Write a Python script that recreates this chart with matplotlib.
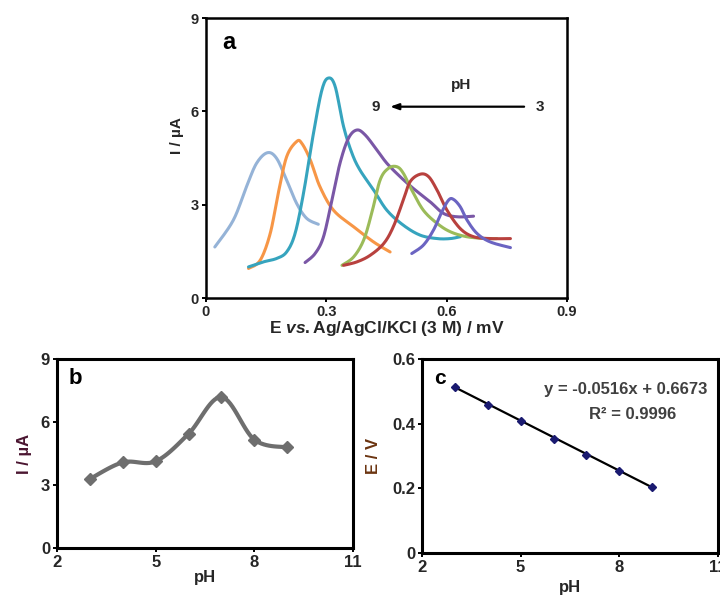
import numpy as np
import matplotlib
matplotlib.use("Agg")
import matplotlib.pyplot as plt

plt.rcParams['font.family'] = ['Liberation Sans', 'DejaVu Sans']
plt.rcParams['font.weight'] = 'bold'
plt.rcParams['mathtext.fontset'] = 'custom'
plt.rcParams['mathtext.it'] = 'Liberation Sans:italic:bold'
plt.rcParams['mathtext.rm'] = 'Liberation Sans:bold'

TXT = '#262626'

# (a) DPV curves at each pH, potential (V) and current (uA)
E_ph9 = [0.022, 0.068, 0.101, 0.126, 0.153, 0.176, 0.201, 0.226, 0.251, 0.280]
I_ph9 = [1.64, 2.50, 3.58, 4.33, 4.67, 4.49, 3.79, 3.04, 2.56, 2.37]
E_ph8 = [0.106, 0.135, 0.160, 0.180, 0.201, 0.226, 0.239, 0.260, 0.284, 0.318, 0.368, 0.418, 0.459]
I_ph8 = [0.95, 1.21, 2.07, 3.36, 4.54, 5.03, 4.97, 4.44, 3.58, 2.82, 2.29, 1.80, 1.48]
E_ph7 = [0.106, 0.143, 0.176, 0.201, 0.222, 0.243, 0.268, 0.289, 0.305, 0.322, 0.343, 0.364,
         0.384, 0.418, 0.451, 0.492, 0.534, 0.576, 0.609, 0.634]
I_ph7 = [1.00, 1.16, 1.27, 1.48, 2.07, 3.36, 5.30, 6.69, 7.07, 6.80, 5.51, 4.65,
         4.11, 3.47, 2.82, 2.34, 2.02, 1.91, 1.91, 1.97]
E_ph6 = [0.247, 0.272, 0.293, 0.314, 0.334, 0.355, 0.376, 0.397, 0.426, 0.451, 0.484, 0.517,
         0.559, 0.592, 0.626, 0.667]
I_ph6 = [1.14, 1.43, 1.97, 3.15, 4.33, 5.13, 5.40, 5.24, 4.76, 4.33, 3.90, 3.52,
         3.09, 2.72, 2.61, 2.63]
E_ph5 = [0.339, 0.368, 0.393, 0.413, 0.434, 0.455, 0.476, 0.492, 0.513, 0.542, 0.576, 0.609,
         0.650, 0.700, 0.725]
I_ph5 = [1.05, 1.32, 1.86, 2.72, 3.79, 4.17, 4.22, 4.01, 3.47, 2.82, 2.40, 2.13,
         1.97, 1.91, 1.91]
E_ph4 = [0.343, 0.376, 0.409, 0.443, 0.467, 0.492, 0.509, 0.534, 0.555, 0.576, 0.601, 0.634,
         0.667, 0.709, 0.759]
I_ph4 = [1.05, 1.16, 1.37, 1.75, 2.29, 3.15, 3.74, 3.98, 3.90, 3.47, 2.82, 2.23,
         1.97, 1.91, 1.91]
E_ph3 = [0.513, 0.542, 0.567, 0.588, 0.605, 0.617, 0.634, 0.651, 0.676, 0.709, 0.759]
I_ph3 = [1.43, 1.70, 2.18, 2.77, 3.15, 3.17, 2.93, 2.50, 2.07, 1.80, 1.62]

curves = [
    (E_ph9, I_ph9, '#95b3d7'),
    (E_ph8, I_ph8, '#f79646'),
    (E_ph7, I_ph7, '#36a4be'),
    (E_ph6, I_ph6, '#7a57a6'),
    (E_ph5, I_ph5, '#9bbb59'),
    (E_ph4, I_ph4, '#b8413e'),
    (E_ph3, I_ph3, '#6b64c2'),
]

# (b) peak current vs pH
pH = [3, 4, 5, 6, 7, 8, 9]
Ip = [3.29, 4.08, 4.13, 5.44, 7.19, 5.16, 4.79]

# (c) peak potential vs pH and linear fit
Ep = [0.512, 0.458, 0.409, 0.351, 0.303, 0.255, 0.204]
slope, intercept = -0.0516, 0.6673


def smooth(x, y, n=16):
    # Catmull-Rom path through the points, like a smoothed spreadsheet line
    p = np.column_stack([x, y]).astype(float)
    p = np.vstack([p[0], p, p[-1]])
    out = []
    t = np.linspace(0, 1, n)[:, None]
    for i in range(1, len(p) - 2):
        p0, p1, p2, p3 = p[i - 1], p[i], p[i + 1], p[i + 2]
        seg = 0.5 * ((2 * p1) + (-p0 + p2) * t + (2 * p0 - 5 * p1 + 4 * p2 - p3) * t ** 2
                     + (-p0 + 3 * p1 - 3 * p2 + p3) * t ** 3)
        out.append(seg if i == 1 else seg[1:])
    out = np.vstack(out)
    return out[:, 0], out[:, 1]


def style(ax, lw=1.8, size=10):
    for s in ax.spines.values():
        s.set_linewidth(lw)
        s.set_color('black')
    ax.tick_params(direction='out', length=3, width=1.4, labelsize=size,
                   colors='black', labelcolor=TXT, pad=2)
    for lab in ax.get_xticklabels() + ax.get_yticklabels():
        lab.set_fontweight('bold')


fig = plt.figure(figsize=(7.2, 5.99), dpi=100)

# panel a
ax = fig.add_axes([0.2861, 0.5025, 0.5014, 0.4674])
for e, i, c in curves:
    xs, ys = smooth(e, i)
    ax.plot(xs, ys, color=c, lw=2.2, solid_capstyle='round')
ax.set_xlim(0, 0.9)
ax.set_ylim(0, 9)
ax.set_xticks([0, 0.3, 0.6, 0.9])
ax.set_xticklabels(['0', '0.3', '0.6', '0.9'])
ax.set_yticks([0, 3, 6, 9])
style(ax, lw=1.8, size=10.5)
ax.set_xlabel('E $\\it{vs.}$Ag/AgCl/KCl (3 M) / mV', fontsize=12.5, fontweight='bold',
              color=TXT, labelpad=0)
ax.set_ylabel('I / µA', fontsize=11, fontweight='bold', color=TXT)
ax.yaxis.set_label_coords(-0.06, 0.58)
ax.text(0.045, 0.955, 'a', transform=ax.transAxes, fontsize=17, fontweight='bold',
        va='top', ha='left', color='black')
ax.annotate('', xy=(0.452, 6.15), xytext=(0.80, 6.15),
            arrowprops=dict(arrowstyle='-|>,head_length=0.5,head_width=0.18',
                            color='black', lw=1.6))
ax.text(0.435, 6.15, '9', fontsize=11, fontweight='bold', ha='right', va='center', color=TXT)
ax.text(0.822, 6.15, '3', fontsize=11, fontweight='bold', ha='left', va='center', color=TXT)
ax.text(0.635, 6.62, 'pH', fontsize=11, fontweight='bold', ha='center', va='bottom', color=TXT)

# panel b
bx = fig.add_axes([0.0792, 0.0851, 0.4111, 0.3155])
xs, ys = smooth(pH, Ip)
bx.plot(xs, ys, color='#6e6e6e', lw=3)
bx.plot(pH, Ip, ls='none', marker='D', ms=6.5, color='#6e6e6e')
bx.set_xlim(2, 11)
bx.set_ylim(0, 9)
bx.set_xticks([2, 5, 8, 11])
bx.set_yticks([0, 3, 6, 9])
style(bx, lw=2.2, size=12)
bx.set_xlabel('pH', fontsize=12, fontweight='bold', color=TXT, labelpad=0)
bx.set_ylabel('I / µA', fontsize=12, fontweight='bold', color='#4a1530', labelpad=6)
bx.text(0.04, 0.95, 'b', transform=bx.transAxes, fontsize=16, fontweight='bold',
        va='top', ha='left', color='black')

# panel c
cx = fig.add_axes([0.5861, 0.0768, 0.4111, 0.3239])
fit_x = np.array([pH[0], pH[-1]])
cx.plot(fit_x, slope * fit_x + intercept, color='black', lw=1.6)
cx.plot(pH, Ep, ls='none', marker='D', ms=4.5, color='#1a1a70')
cx.set_xlim(2, 11)
cx.set_ylim(0, 0.6)
cx.set_xticks([2, 5, 8, 11])
cx.set_yticks([0, 0.2, 0.4, 0.6])
cx.set_yticklabels(['0', '0.2', '0.4', '0.6'])
style(cx, lw=2.2, size=12)
cx.set_xlabel('pH', fontsize=12, fontweight='bold', color=TXT, labelpad=4)
cx.set_ylabel('E / V', fontsize=12, fontweight='bold', color='#6b3410', labelpad=8)
cx.text(0.04, 0.95, 'c', transform=cx.transAxes, fontsize=15, fontweight='bold',
        va='top', ha='left', color='black')
cx.text(8.2, 0.505, 'y = -0.0516x + 0.6673', fontsize=12, fontweight='bold',
        ha='center', va='center', color='#404040')
cx.text(8.4, 0.428, 'R² = 0.9996', fontsize=12, fontweight='bold',
        ha='center', va='center', color='#404040')

fig.savefig('out.png', dpi=100)
